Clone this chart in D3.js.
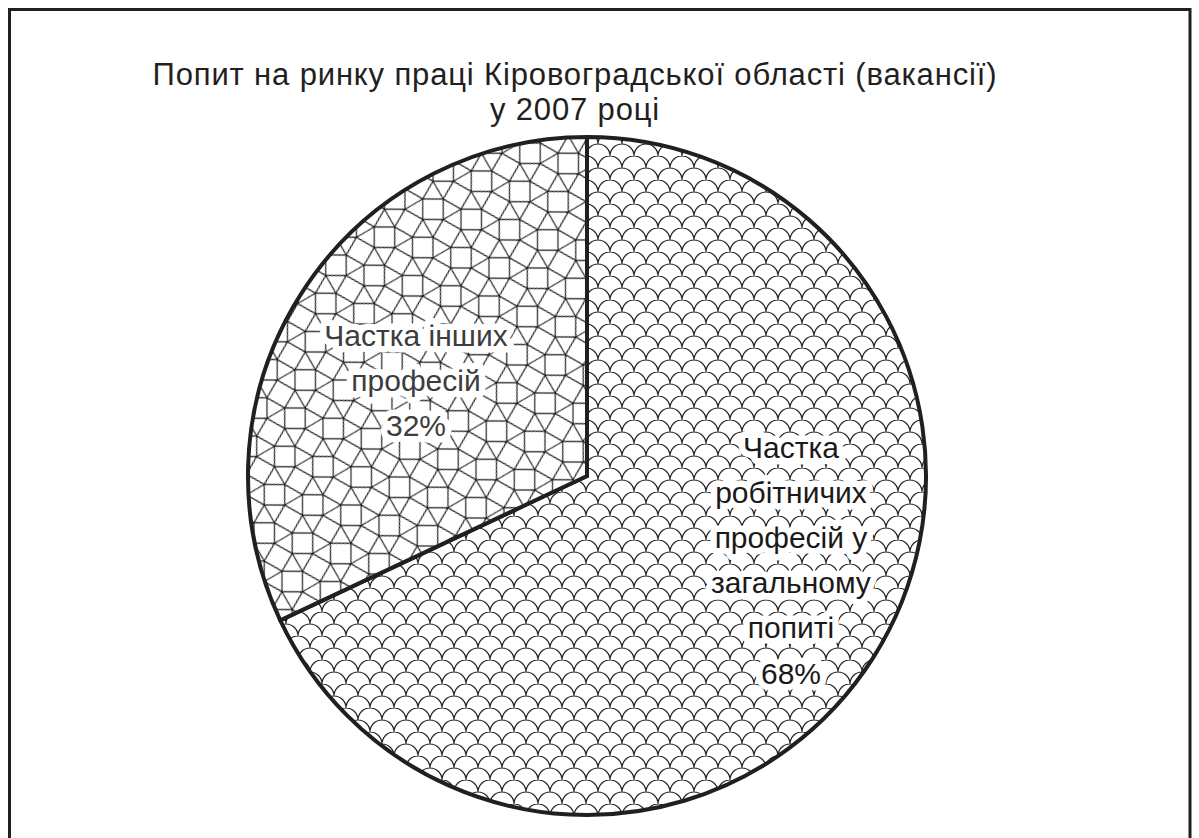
<!DOCTYPE html>
<html><head><meta charset="utf-8">
<script src="https://cdn.jsdelivr.net/npm/d3@7"></script>
<style>html,body{margin:0;padding:0;background:#fff;}svg{display:block;}</style>
</head><body>
<script>
const titleLines = ["Попит на ринку праці Кіровоградської області (вакансії)", "у 2007 році"];
const categories = ["Частка робітничих професій у загальному попиті", "Частка інших професій"];
const values = [68, 32];
const labelLines = [
  ["Частка", "робітничих", "професій у", "загальному", "попиті", "68%"],
  ["Частка інших", "професій", "32%"]
];

const W = 1199, H = 838;
const svg = d3.select("body").append("svg").attr("width", W).attr("height", H);
const defs = svg.append("defs");
const ink = "#231f20";

// fish-scale pattern
const S = 24;
const scale = defs.append("pattern").attr("id", "scales")
  .attr("patternUnits", "userSpaceOnUse").attr("width", S).attr("height", S)
  .attr("x", 587).attr("y", 136);
scale.append("rect").attr("width", S).attr("height", S).attr("fill", "#fff");
scale.append("path").attr("fill", "none").attr("stroke", ink).attr("stroke-width", 1.2)
  .attr("d", `M0,${S/2} A${S/2},${S/2} 0 0 1 ${S},${S/2} M${-S/2},${S} A${S/2},${S/2} 0 0 1 ${S/2},${S} M${S/2},${S} A${S/2},${S/2} 0 0 1 ${S*1.5},${S}`);

// snub-square tiling pattern
const a = 20.5;
const P = a * Math.sqrt(2 + Math.sqrt(3));
const d = a / Math.SQRT2;
const snub = defs.append("pattern").attr("id", "snub")
  .attr("patternUnits", "userSpaceOnUse").attr("width", P).attr("height", P)
  .attr("patternTransform", "rotate(15)");
snub.append("rect").attr("x", -1).attr("y", -1).attr("width", P + 2).attr("height", P + 2).attr("fill", "#fff");
const verts = [];
for (let i = -2; i <= 2; i++) for (let j = -2; j <= 2; j++) {
  for (let k = 0; k < 4; k++) {
    const t = (60 + 90 * k) * Math.PI / 180;
    verts.push([i * P + d * Math.cos(t), j * P + d * Math.sin(t)]);
  }
}
const edges = [];
for (let m = 0; m < verts.length; m++) for (let n = m + 1; n < verts.length; n++) {
  const dx = verts[m][0] - verts[n][0], dy = verts[m][1] - verts[n][1];
  if (Math.abs(Math.hypot(dx, dy) - a) < 0.01) edges.push([verts[m], verts[n]]);
}
snub.append("path").attr("fill", "none").attr("stroke", ink).attr("stroke-width", 1.2)
  .attr("d", edges.map(e => `M${e[0][0]},${e[0][1]}L${e[1][0]},${e[1][1]}`).join(""));

// frame
svg.append("path").attr("fill", "none").attr("stroke", ink).attr("stroke-width", 3)
  .attr("d", `M9.5,${H + 5} V9.5 H1190 V${H + 5}`);

// title
const title = svg.append("text").attr("text-anchor", "middle")
  .attr("font-family", "Liberation Sans, Arial, sans-serif").attr("font-size", 31)
  .attr("letter-spacing", 0.85).attr("fill", ink);
titleLines.forEach((t, i) => title.append("tspan").attr("x", 575).attr("y", 85 + i * 35).text(t));

// pie
const cx = 587, cy = 476, R = 339;
const g = svg.append("g").attr("transform", `translate(${cx},${cy})`);
const pie = d3.pie().sort(null).startAngle(0).endAngle(2 * Math.PI);
const arcs = pie(values);
const arc = d3.arc().innerRadius(0).outerRadius(R);
const fills = ["url(#scales)", "url(#snub)"];
g.selectAll("path.slice").data(arcs).join("path").attr("class", "slice")
  .attr("d", arc)
  .attr("fill", (dd, i) => fills[i]).attr("stroke", ink).attr("stroke-width", 4).attr("stroke-linejoin", "miter");

// labels
const labelPos = [
  { dx: 204, dy: 84, size: 30, fill: "#1a1a1a", lh: 45.2 },
  { dx: -171, dy: -96, size: 30, fill: "#3d3d3d", lh: 45 }
];
labelLines.forEach((lines, i) => {
  const lp = labelPos[i];
  const x = lp.dx, y = lp.dy;
  const txt = g.append("text").attr("text-anchor", "middle")
    .attr("font-family", "Liberation Sans, Arial, sans-serif").attr("font-size", lp.size)
    .attr("fill", lp.fill).attr("stroke", "#fff").attr("stroke-width", 13)
    .attr("stroke-linejoin", "round").attr("paint-order", "stroke");
  const y0 = y - (lines.length - 1) * lp.lh / 2 + lp.size * 0.35;
  lines.forEach((l, k) => txt.append("tspan").attr("x", x).attr("y", y0 + k * lp.lh).text(l));
});
</script>
</body></html>
